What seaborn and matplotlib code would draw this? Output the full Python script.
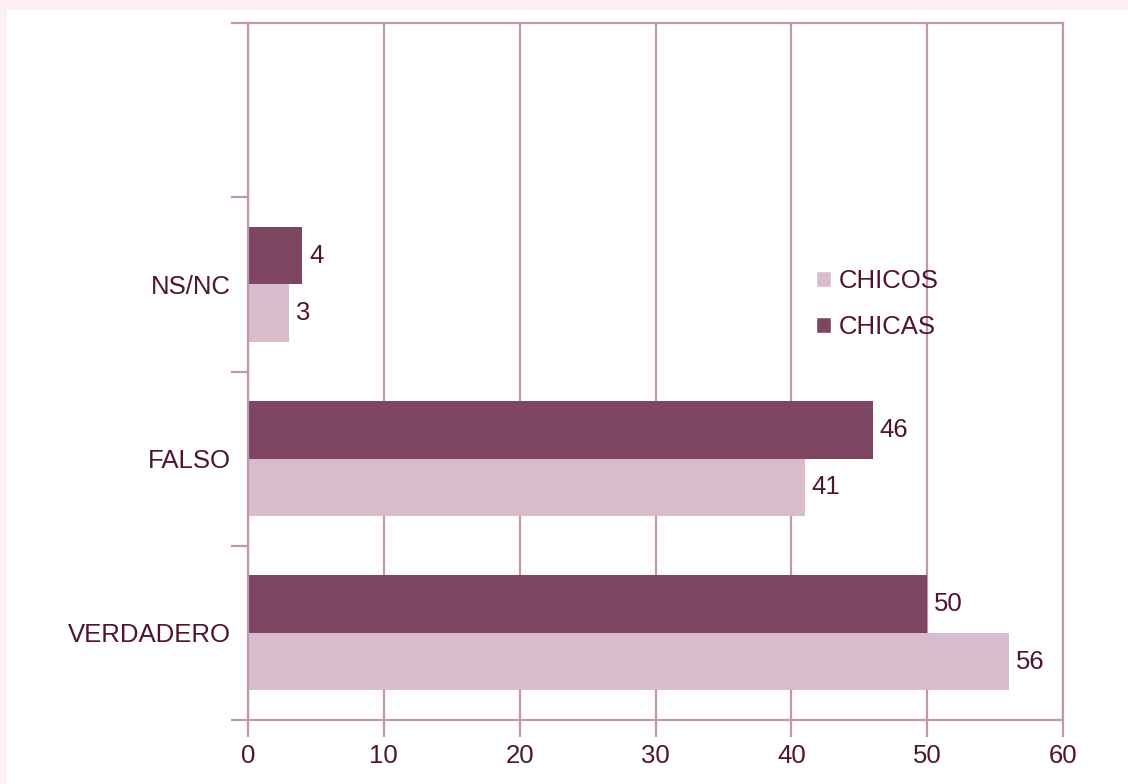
import matplotlib
matplotlib.use("Agg")
import matplotlib.pyplot as plt
from matplotlib.patches import Patch, Rectangle
import seaborn as sns
import pandas as pd

# Survey answers by group
categories = ["VERDADERO", "FALSO", "NS/NC"]
chicos = [56, 41, 3]
chicas = [50, 46, 4]
x_ticks = [0, 10, 20, 30, 40, 50, 60]

DARK = "#7e4660"
LIGHT = "#d7bccb"
TEXT = "#4e1430"
LINE = "#c397ab"
BORDER = "#fdf0f5"
FS = 18.5

df = pd.DataFrame({
    "respuesta": categories * 2,
    "valor": chicas + chicos,
    "grupo": ["CHICAS"] * len(categories) + ["CHICOS"] * len(categories),
})

sns.set_theme(style="white")
plt.rcParams["font.family"] = ["Liberation Sans", "DejaVu Sans"]

fig = plt.figure(figsize=(11.28, 7.84), dpi=100, facecolor=BORDER)
fig.patches.append(Rectangle((7 / 1128, 0), 1, 1 - 10 / 784, transform=fig.transFigure,
                             facecolor="white", edgecolor="none", zorder=-10))
ax = fig.add_axes([248 / 1128, 1 - 720 / 784, (1063 - 248) / 1128, (720 - 23) / 784])
ax.set_facecolor("none")

order = [""] + categories[::-1]
sns.barplot(data=df, y="respuesta", x="valor", hue="grupo", order=order,
            hue_order=["CHICAS", "CHICOS"], palette=[DARK, LIGHT], orient="h",
            width=0.66, saturation=1, linewidth=0, ax=ax, legend=False, zorder=2)

for cont in ax.containers:
    ax.bar_label(cont, padding=5, fontsize=FS, color=TEXT)

ax.set_xlim(0, 60)
ax.set_ylim(3.5, -0.5)
ax.set_xticks(x_ticks)
ax.set_xticklabels([str(t) for t in x_ticks], fontsize=FS, color=TEXT)
ax.xaxis.grid(True, color=LINE, linewidth=1.6, zorder=0)
ax.set_axisbelow(True)

# tick marks at slot boundaries, labels at slot centres
ax.set_yticks([-0.5, 0.5, 1.5, 2.5, 3.5])
ax.set_yticklabels([])
ax.set_yticks(range(len(order)), minor=True)
ax.set_yticklabels(order, minor=True, fontsize=FS, color=TEXT)
ax.tick_params(axis="y", which="major", length=12, width=1.6, color=LINE, left=True)
ax.tick_params(axis="y", which="minor", length=0, pad=12)
ax.tick_params(axis="x", length=12, width=1.6, color=LINE, bottom=True, pad=5)
ax.set_xlabel("")
ax.set_ylabel("")

for side in ["left", "bottom", "right", "top"]:
    ax.spines[side].set_visible(True)
    ax.spines[side].set_color(LINE)
    ax.spines[side].set_linewidth(1.6)

handles = [Patch(facecolor=LIGHT, label="CHICOS"), Patch(facecolor=DARK, label="CHICAS")]
leg = fig.legend(handles=handles, loc="upper left", bbox_to_anchor=(816 / 1128, 1 - 269 / 784),
                 frameon=False, fontsize=FS, handlelength=0.6, handleheight=0.6,
                 handletextpad=0.3, labelspacing=0.85, borderpad=0, borderaxespad=0)
for t in leg.get_texts():
    t.set_color(TEXT)

fig.savefig("out.png", dpi=100, facecolor=fig.get_facecolor())
